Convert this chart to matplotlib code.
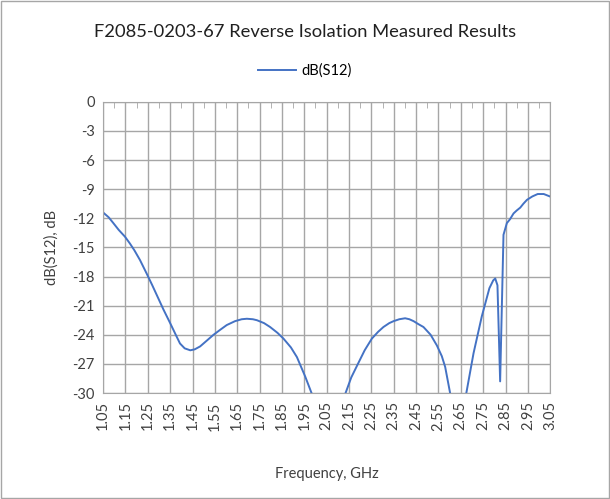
import matplotlib.pyplot as plt
import numpy as np

# reverse isolation readings (GHz, dB)
freq = [1.05, 1.075, 1.096, 1.12, 1.148, 1.17, 1.19, 1.215, 1.245, 1.27, 1.29, 1.32,
        1.35, 1.375, 1.394, 1.415, 1.44, 1.46, 1.484, 1.514, 1.544, 1.573, 1.603,
        1.64, 1.67, 1.693, 1.72, 1.738, 1.77, 1.797, 1.83, 1.857, 1.89, 1.917, 1.954,
        1.984, 2.01, 2.06, 2.11, 2.133, 2.16, 2.192, 2.22, 2.252, 2.28, 2.304, 2.33,
        2.349, 2.375, 2.401, 2.42, 2.439, 2.46, 2.483, 2.515, 2.543, 2.565, 2.58,
        2.603, 2.63, 2.655, 2.674, 2.707, 2.744, 2.778, 2.795, 2.804, 2.814, 2.826,
        2.841, 2.856, 2.87, 2.886, 2.9, 2.916, 2.93, 2.946, 2.97, 2.994, 3.021, 3.054]
s12 = [-11.4, -11.9, -12.5, -13.2, -13.9, -14.6, -15.3, -16.3, -17.7, -18.9, -19.9,
       -21.4, -22.8, -24.0, -24.9, -25.4, -25.6, -25.5, -25.2, -24.6, -24.0, -23.5,
       -23.0, -22.6, -22.4, -22.35, -22.4, -22.5, -22.8, -23.2, -23.8, -24.4, -25.3,
       -26.3, -28.3, -30.1, -32.5, -35.0, -32.0, -30.1, -28.4, -26.9, -25.6, -24.4,
       -23.7, -23.2, -22.8, -22.6, -22.4, -22.3, -22.4, -22.6, -22.9, -23.2, -24.0,
       -25.1, -26.2, -27.3, -30.1, -34.0, -33.0, -30.1, -25.9, -22.1, -19.2, -18.4,
       -18.2, -18.9, -28.8, -13.7, -12.5, -12.1, -11.5, -11.2, -10.9, -10.5, -10.1,
       -9.75, -9.5, -9.5, -9.8]

xticks = np.round(np.arange(1.05, 3.06, 0.1), 2)
yticks = list(range(0, -31, -3))

plt.rcParams['font.family'] = ['Lato', 'DejaVu Sans']

fig = plt.figure(figsize=(6.1, 4.99), dpi=100)
ax = fig.add_axes([0.169, 0.2124, 0.733, 0.5836])

ax.plot(freq, s12, color='#4472C4', lw=1.4, label='dB(S12)')

ax.set_xlim(1.05, 3.05)
ax.set_ylim(-30, 0)
ax.set_xticks(xticks)
ax.set_xticklabels([f'{t:.2f}' for t in xticks], rotation=90, fontsize=10.5)
ax.set_yticks(yticks)
ax.set_yticklabels([str(t) for t in yticks], fontsize=10.5)
ax.tick_params(length=0, pad=6, colors='#404040')
ax.grid(True, color='#a6a6a6', lw=1)
ax.set_axisbelow(True)
for s in ax.spines.values():
    s.set_color('#a6a6a6')

# small category ticks along the top axis
ax.set_xticks(xticks[:-1] + 0.05, minor=True)
ax.tick_params(axis='x', which='minor', top=True, bottom=False, direction='in',
               length=4, color='#a6a6a6')

ax.set_xlabel('Frequency, GHz', fontsize=10.5, labelpad=26, color='#404040')
ax.set_ylabel('dB(S12), dB', fontsize=10.5, labelpad=10, color='#404040')

fig.text(0.5, 0.935, 'F2085-0203-67 Reverse Isolation Measured Results',
         ha='center', va='center', fontsize=13.2, color='#202020')
fig.legend(loc='center', bbox_to_anchor=(0.5, 0.858), frameon=False,
           fontsize=10.5, handlelength=2.6, handletextpad=0.4)

fig.patches.append(plt.Rectangle((0.002, 0.002), 0.996, 0.996, transform=fig.transFigure,
                                 fill=False, edgecolor='#a6a6a6', lw=1))

fig.savefig('out.png', dpi=100)
